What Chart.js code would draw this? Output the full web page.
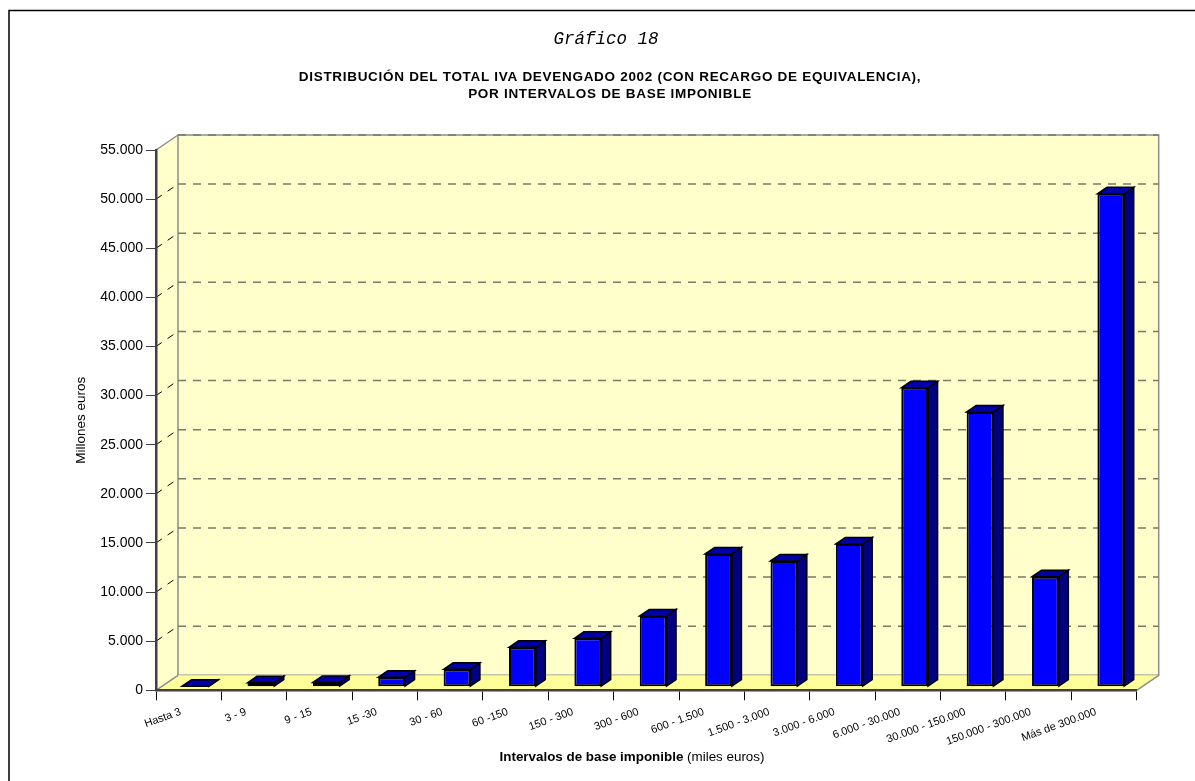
<!DOCTYPE html>
<html>
<head>
<meta charset="utf-8">
<title>Gráfico 18</title>
<script src="https://cdn.jsdelivr.net/npm/chart.js@4/dist/chart.umd.min.js"></script>
<style>
    html, body { margin: 0; padding: 0; background: #fff; overflow: hidden; }
    canvas { display: block; }
</style>
</head>
<body>
<canvas id="grafico" width="1195" height="781"></canvas>
<script>
// Data (millones de euros)
const categories = ["Hasta 3", "3 - 9", "9 - 15", "15 -30", "30 - 60", "60 -150", "150 - 300", "300 - 600",
    "600 - 1.500", "1.500 - 3.000", "3.000 - 6.000", "6.000 - 30.000", "30.000 - 150.000",
    "150.000 - 300.000", "Más de 300.000"];
const ivaValues = [50, 400, 430, 950, 1770, 4010, 4930, 7200, 13510, 12800, 14530, 30420, 27970, 11200, 50170];
const yMax = 55000;
const yStep = 5000;

const FONT = "'Liberation Sans', Arial, sans-serif";

// 3D look of the old chart
const WALL = { dx: 22, dy: -15 };
const BAR_SHIFT = { dx: 6.8, dy: -3.6 };
const BAR_DEPTH = { dx: 9.5, dy: -6.5 };

function poly(ctx, pts, fill, stroke, lw) {
    ctx.beginPath();
    pts.forEach((p, i) => i ? ctx.lineTo(p[0], p[1]) : ctx.moveTo(p[0], p[1]));
    ctx.closePath();
    if (fill) { ctx.fillStyle = fill; ctx.fill(); }
    if (stroke) { ctx.strokeStyle = stroke; ctx.lineWidth = lw; ctx.stroke(); }
}

const paredes = {
    id: 'paredes',
    beforeDraw(chart) {
        const ctx = chart.ctx, y = chart.scales.y, a = chart.chartArea;
        const l = a.left, r = a.right, t = a.top, b = a.bottom;
        ctx.save();
        // page frame
        ctx.strokeStyle = '#000';
        ctx.lineWidth = 1.5;
        ctx.beginPath();
        ctx.moveTo(1195, 10.5);
        ctx.lineTo(9, 10.5);
        ctx.lineTo(9, 781);
        ctx.stroke();
        // side wall, back wall, floor
        poly(ctx, [[l, t], [l + WALL.dx, t + WALL.dy], [l + WALL.dx, b + WALL.dy], [l, b]], '#FFFFCC');
        poly(ctx, [[l + WALL.dx, t + WALL.dy], [r + WALL.dx, t + WALL.dy], [r + WALL.dx, b + WALL.dy], [l + WALL.dx, b + WALL.dy]], '#FFFFCC', '#8c8c8c', 1.5);
        poly(ctx, [[l, b], [l + WALL.dx, b + WALL.dy], [r + WALL.dx, b + WALL.dy], [r, b]], '#FFFF99');
        ctx.strokeStyle = '#8c8c8c';
        ctx.lineWidth = 1.5;
        ctx.beginPath();
        ctx.moveTo(l, t); ctx.lineTo(l + WALL.dx, t + WALL.dy);
        ctx.moveTo(l, b); ctx.lineTo(l + WALL.dx, b + WALL.dy);
        ctx.moveTo(r, b); ctx.lineTo(r + WALL.dx, b + WALL.dy);
        ctx.stroke();
        // dashed gridlines, from the library's y scale
        for (let v = yStep; v <= yMax; v += yStep) {
            const py = y.getPixelForValue(v);
            ctx.setLineDash([8, 7]);
            ctx.strokeStyle = '#7a7a68';
            ctx.lineWidth = 1.5;
            ctx.beginPath();
            ctx.moveTo(l + WALL.dx, py + WALL.dy);
            ctx.lineTo(r + WALL.dx, py + WALL.dy);
            ctx.stroke();
            if (v < yMax) {
                ctx.setLineDash([7, 7]);
                ctx.strokeStyle = '#000';
                ctx.lineWidth = 1;
                ctx.beginPath();
                ctx.moveTo(l, py);
                ctx.lineTo(l + WALL.dx, py + WALL.dy);
                ctx.stroke();
            }
        }
        ctx.restore();
    },
    beforeDatasetDraw(chart, args) {
        const ctx = chart.ctx;
        ctx.save();
        chart.getDatasetMeta(args.index).data.forEach(el => {
            const p = el.getProps(['x', 'y', 'base', 'width'], true);
            const x0 = p.x - p.width / 2 + BAR_SHIFT.dx, x1 = p.x + p.width / 2 + BAR_SHIFT.dx;
            const top = p.y + BAR_SHIFT.dy, bot = p.base + BAR_SHIFT.dy;
            const d = BAR_DEPTH;
            poly(ctx, [[x1, top], [x1 + d.dx, top + d.dy], [x1 + d.dx, bot + d.dy], [x1, bot]], '#000080', '#000', 1.5);
            poly(ctx, [[x0, top], [x0 + d.dx, top + d.dy], [x1 + d.dx, top + d.dy], [x1, top]], '#0000A8', '#000', 1.5);
        });
        ctx.restore();
        // front faces are the library's own bars, moved onto the floor
        ctx.save();
        ctx.translate(BAR_SHIFT.dx, BAR_SHIFT.dy);
    },
    afterDatasetDraw(chart) {
        chart.ctx.restore();
    },
    afterDraw(chart) {
        const ctx = chart.ctx;
        ctx.save();
        ctx.fillStyle = '#000';
        ctx.textBaseline = 'middle';
        // titles sit off the page centre, so they are placed by hand
        ctx.textAlign = 'center';
        ctx.font = "italic 17.5px 'Liberation Mono', monospace";
        ctx.fillText('Gráfico 18', 606, 39);
        ctx.font = 'bold 13.5px ' + FONT;
        ctx.letterSpacing = '0.7px';
        ctx.fillText('DISTRIBUCIÓN DEL TOTAL IVA DEVENGADO 2002 (CON RECARGO DE EQUIVALENCIA),', 610, 77);
        ctx.fillText('POR INTERVALOS DE BASE IMPONIBLE', 610, 94);
        ctx.letterSpacing = '0px';
        // x axis title has a bold and a normal part
        const bold = 'Intervalos de base imponible', normal = ' (miles euros)';
        ctx.textAlign = 'left';
        ctx.font = 'bold 13.4px ' + FONT;
        const w1 = ctx.measureText(bold).width;
        ctx.font = '13.4px ' + FONT;
        const w2 = ctx.measureText(normal).width;
        const x = 632 - (w1 + w2) / 2;
        ctx.font = 'bold 13.4px ' + FONT;
        ctx.fillText(bold, x, 757);
        ctx.font = '13.4px ' + FONT;
        ctx.fillText(normal, x + w1, 757);
        ctx.restore();
    }
};

new Chart(document.getElementById('grafico'), {
    type: 'bar',
    data: {
        labels: categories,
        datasets: [{
            data: ivaValues,
            backgroundColor: '#0000FF',
            borderColor: '#000',
            borderWidth: 2,
            borderSkipped: false,
            barPercentage: 0.41,
            categoryPercentage: 1,
            clip: false
        }]
    },
    plugins: [paredes],
    options: {
        responsive: false,
        animation: false,
        layout: { padding: { left: 60, right: 58.3, top: 150, bottom: 0 } },
        plugins: {
            legend: { display: false },
            tooltip: { enabled: false }
        },
        scales: {
            x: {
                afterFit(scale) { scale.height = 90.7; },
                border: { color: '#404040', width: 2.5 },
                grid: { drawOnChartArea: false, drawTicks: true, tickLength: 10, color: '#000', tickWidth: 1 },
                ticks: {
                    autoSkip: false,
                    minRotation: 20,
                    maxRotation: 20,
                    labelOffset: -8,
                    padding: 5,
                    color: '#000',
                    font: { family: FONT, size: 11 }
                }
            },
            y: {
                min: 0,
                max: yMax,
                afterFit(scale) { scale.width = 96; },
                border: { color: '#404040', width: 2.5 },
                grid: { drawOnChartArea: false, drawTicks: true, tickLength: 10, color: '#404040', tickWidth: 1 },
                title: {
                    display: true,
                    text: 'Millones euros',
                    color: '#000',
                    font: { family: FONT, size: 13.5 },
                    padding: { top: 13, bottom: 0 }
                },
                ticks: {
                    stepSize: yStep,
                    padding: 3,
                    color: '#000',
                    font: { family: FONT, size: 14 },
                    callback: v => String(v).replace(/\B(?=(\d{3})+$)/g, '.')
                }
            }
        }
    }
});
</script>
</body>
</html>
